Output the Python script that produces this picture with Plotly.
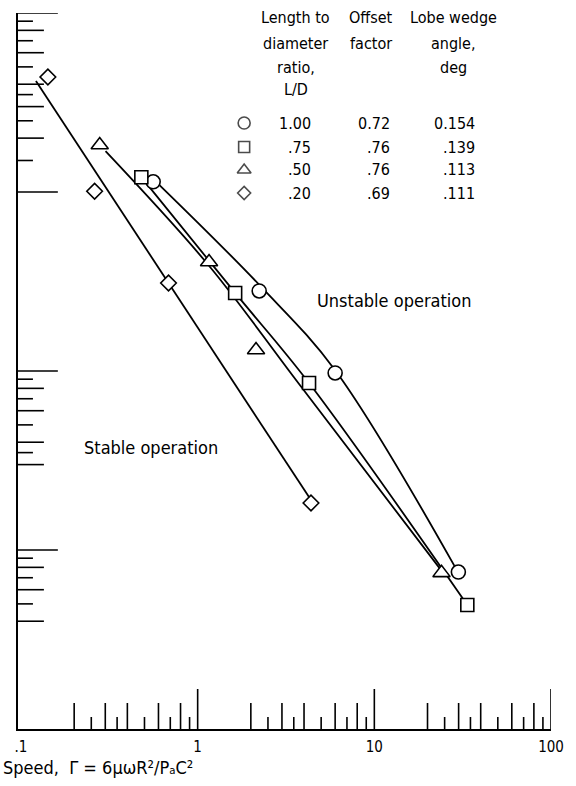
import plotly.graph_objects as go

# Stability boundary data: speed parameter Γ (x) against stability parameter (y)
ld_100_gamma = [0.56, 2.23, 6.0, 29.9]
ld_100_value = [114, 28.0, 9.75, 0.753]
ld_075_gamma = [0.48, 1.63, 4.27, 33.6]
ld_075_value = [121, 27.3, 8.57, 0.493]
ld_050_gamma = [0.279, 1.16, 2.14, 24.0]
ld_050_value = [183, 40.6, 13.1, 0.745]
ld_020_gamma = [0.142, 0.261, 0.684, 4.38]
ld_020_value = [439, 101, 31.0, 1.83]

# Faired boundary curves drawn through the test points
fair_100_gamma = [0.61, 2.29, 6.0, 28.4]
fair_100_value = [109, 29.5, 10.1, 0.815]
fair_075_gamma = [0.48, 1.63, 4.27, 33.6]
fair_075_value = [121, 27.3, 8.57, 0.493]
fair_050_gamma = [0.301, 1.15, 3.75, 23.4]
fair_050_value = [169, 39.1, 8.46, 0.792]
fair_020_gamma = [0.1215, 4.38]
fair_020_value = [417, 1.90]

# Key table
ld_labels = ["1.00", ".75", ".50", ".20"]
offset_labels = ["0.72", ".76", ".76", ".69"]
wedge_labels = ["0.154", ".139", ".113", ".111"]
symbols = ["circle", "square", "triangle-up", "diamond"]

# Axis tick values
x_tick_vals = [0.1, 1, 10, 100]
x_tick_text = [".1", "1", "10", "100"]
x_major = [1, 10, 100]
x_mid = [0.2, 0.3, 0.4, 0.6, 0.8, 2, 3, 4, 6, 8, 20, 30, 40, 60, 80]
x_short = [0.25, 0.35, 0.5, 0.7, 0.9, 2.5, 3.5, 5, 7, 9, 25, 35, 50, 70, 90]
y_major = [1, 10, 100, 1000]
y_mid = [200, 300, 400, 600, 800, 3, 4, 6, 8, 0.4, 0.6, 0.8]
y_short = [150, 250, 350, 500, 700, 900, 3.5, 5, 7, 9, 0.5, 0.7, 0.9]

W, H = 576, 786
ML, MR, MT, MB = 18, 23, 13, 57
PW, PH = W - ML - MR, H - MT - MB
FONT = "DejaVu Sans Condensed, Liberation Sans Narrow, sans-serif"
INK = "black"


def fx(px):
    return (px - ML) / PW


def fy(py):
    return (H - MB - py) / PH


fig = go.Figure()

curves = [
    (fair_100_gamma, fair_100_value),
    (fair_075_gamma, fair_075_value),
    (fair_050_gamma, fair_050_value),
    (fair_020_gamma, fair_020_value),
]
for cx, cy in curves:
    fig.add_trace(go.Scatter(
        x=cx, y=cy, mode="lines",
        line=dict(color=INK, width=1.8, shape="spline", smoothing=1.0),
        hoverinfo="skip", showlegend=False,
    ))

points = [
    (ld_100_gamma, ld_100_value, 14),
    (ld_075_gamma, ld_075_value, 13),
    (ld_050_gamma, ld_050_value, 15),
    (ld_020_gamma, ld_020_value, 12),
]
for (px_, py_, size), sym in zip(points, symbols):
    fig.add_trace(go.Scatter(
        x=px_, y=py_, mode="markers",
        marker=dict(symbol=sym, size=size, color="white",
                    line=dict(color=INK, width=1.6)),
        showlegend=False,
    ))

# Key symbols on an overlay in paper units
key_x = 245
key_rows = [123, 147, 170, 193]
fig.add_trace(go.Scatter(
    x=[fx(key_x)] * 4, y=[fy(r) for r in key_rows],
    xaxis="x2", yaxis="y2", mode="markers",
    marker=dict(symbol=symbols, size=[12, 11, 12, 10], color="white",
                line=dict(color=INK, width=1.6)),
    showlegend=False, hoverinfo="skip",
))

shapes = []
def xtick(v, length):
    shapes.append(dict(type="line", xref="x", yref="y domain",
                       x0=v, x1=v, y0=0, y1=length / PH,
                       line=dict(color=INK, width=1.6)))

def ytick(v, length):
    shapes.append(dict(type="line", xref="x domain", yref="y",
                       x0=0, x1=length / PW, y0=v, y1=v,
                       line=dict(color=INK, width=1.6)))

for v in x_major:
    xtick(v, 40)
for v in x_mid:
    xtick(v, 26)
for v in x_short:
    xtick(v, 12)
for v in y_major:
    ytick(v, 40)
for v in y_mid:
    ytick(v, 26)
for v in y_short:
    ytick(v, 15)

ann = []
def text(s, px, py, size=16, anchor="center"):
    ann.append(dict(text=s, x=fx(px), y=fy(py), xref="paper", yref="paper",
                    xanchor=anchor, yanchor="middle", showarrow=False,
                    font=dict(family=FONT, size=size, color=INK)))

header_rows = [18, 43, 67, 90]
for s, r in zip(["Length to", "diameter", "ratio,", "L/D"], header_rows):
    text(s, 297, r)
for s, r in zip(["Offset", "factor"], header_rows):
    text(s, 372, r)
for s, r in zip(["Lobe wedge", "angle,", "deg"], header_rows):
    text(s, 455, r)
for i, r in enumerate(key_rows):
    text(ld_labels[i], 314, r, anchor="right")
    text(offset_labels[i], 393, r, anchor="right")
    text(wedge_labels[i], 479, r, anchor="right")

text("Unstable operation", 395, 300, size=18)
text("Stable operation", 82, 447, size=18, anchor="left")
text("Speed,  \u0393 = 6\u03bc\u03c9R\u00b2/P\u2090C\u00b2",
     1, 767, size=18, anchor="left")

fig.update_layout(
    width=W, height=H,
    margin=dict(l=ML, r=MR, t=MT, b=MB),
    paper_bgcolor="white", plot_bgcolor="white",
    shapes=shapes, annotations=ann,
    xaxis=dict(type="log", range=[-1 - 3 / 177.3, 2],
               showgrid=False, zeroline=False,
               showline=True, linecolor=INK, linewidth=2,
               tickmode="array", tickvals=x_tick_vals, ticktext=x_tick_text,
               ticks="", ticklabelstandoff=3,
               tickfont=dict(family=FONT, size=15, color=INK)),
    yaxis=dict(type="log", range=[-1, 3],
               showgrid=False, zeroline=False,
               showline=True, linecolor=INK, linewidth=2,
               showticklabels=False, ticks=""),
    xaxis2=dict(overlaying="x", range=[0, 1], visible=False),
    yaxis2=dict(overlaying="y", range=[0, 1], visible=False),
    showlegend=False,
)

fig.write_html("out.html")
